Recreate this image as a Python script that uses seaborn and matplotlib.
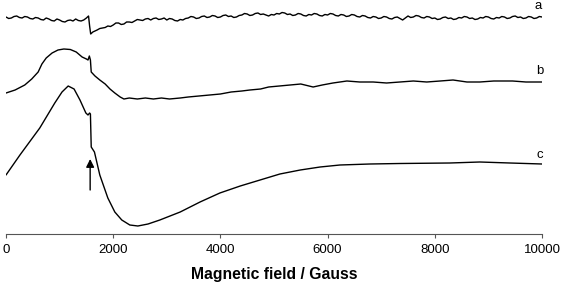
import pandas as pd
import matplotlib
matplotlib.use("Agg")
import matplotlib.pyplot as plt
import seaborn as sns

# STYLE SETTINGS
sns.set_theme(style="ticks")
plt.rcParams['font.family'] = ['Liberation Sans', 'DejaVu Sans']

# DATA (intensities in arbitrary units)
a_field = [0, 50, 100, 150, 200, 250, 300, 350, 400, 450, 500, 550, 600, 650, 700, 750,
           800, 850, 900, 950, 1000, 1050, 1100, 1150, 1200, 1250, 1300, 1350, 1400, 1450,
           1500, 1540, 1560, 1580, 1620, 1660, 1700, 1750, 1800, 1850, 1900, 1950, 2000,
           2050, 2100, 2150, 2200, 2250, 2300, 2350, 2400, 2450, 2500, 2550, 2600, 2650,
           2700, 2750, 2800, 2850, 2900, 2950, 3000, 3050, 3100, 3150, 3200, 3250, 3300,
           3350, 3400, 3450, 3500, 3550, 3600, 3650, 3700, 3750, 3800, 3850, 3900, 3950,
           4000, 4050, 4100, 4150, 4200, 4250, 4300, 4350, 4400, 4450, 4500, 4550, 4600,
           4650, 4700, 4750, 4800, 4850, 4900, 4950, 5000, 5050, 5100, 5150, 5200, 5250,
           5300, 5350, 5400, 5450, 5500, 5550, 5600, 5650, 5700, 5750, 5800, 5850, 5900,
           5950, 6000, 6050, 6100, 6150, 6200, 6250, 6300, 6350, 6400, 6450, 6500, 6550,
           6600, 6650, 6700, 6750, 6800, 6850, 6900, 6950, 7000, 7050, 7100, 7150, 7200,
           7250, 7300, 7350, 7400, 7450, 7500, 7550, 7600, 7650, 7700, 7750, 7800, 7850,
           7900, 7950, 8000, 8050, 8100, 8150, 8200, 8250, 8300, 8350, 8400, 8450, 8500,
           8550, 8600, 8650, 8700, 8750, 8800, 8850, 8900, 8950, 9000, 9050, 9100, 9150,
           9200, 9250, 9300, 9350, 9400, 9450, 9500, 9550, 9600, 9650, 9700, 9750, 9800,
           9850, 9900, 9950, 10000]
a_int = [1, -0.5, 0, 1.5, 2, 0.5, 0, 1.5, 1, -0.5, -1, 0.5, 0, -1.5, -2, 0,
         -1, -2.5, -3, -1, -2, -3.5, -4, -2.5, -2, -3, -1, -2.5, -3, -2,
         0, 2, -8, -16, -14, -13, -12, -10.5, -10, -9.5, -8, -8.5, -7,
         -5, -5, -6.5, -6, -4, -4, -4.5, -3, -1.5, -2, -2.5, -1, -0.5,
         -2, -0.5, 0, -1.5, -1, 0, -2, -0.5, -1, -2.5, -3, -1.5, -2,
         -0.5, 0, 1.5, 1, -0.5, 0, 1.5, 2, 0.5, 1, 2.5, 2, 0.5,
         1, 2.5, 3, 1.5, 2, 0.5, 1, 2.5, 3, 4.5, 4, 2.5, 3,
         4.5, 5, 3.5, 4, 3, 2, 3.5, 3, 4.5, 4, 5.5, 5, 3.5,
         4, 2.5, 3, 4.5, 4, 2.5, 2, 3.5, 3, 4.5, 4, 2.5, 2,
         3.5, 3, 4.5, 4, 2.5, 2, 3.5, 3, 1.5, 2, 3.5, 3, 1.5,
         1, 2.5, 2, 0.5, 0, 1.5, 1, -0.5, 0, 1.5, 1, -0.5, -1,
         0.5, 1, -0.5, -2, 0, 2, 0.5, 1, 2.5, 2, 0.5, 0, 1.5,
         1, -0.5, 0, -1.5, -1, 0.5, 1, -0.5, 0, -1.5, -1, 0.5, 0,
         1.5, 1, -0.5, 0, -1.5, -1, 0.5, 0, 1.5, 1, -0.5, -1, 0.5,
         0, 1.5, 1, -0.5, 0, 1.5, 2, 0.5, 1, -0.5, 0, 1.5, 1,
         -0.5, 0, 1.5, 1]

b_field = [0, 170, 350, 480, 600, 670, 750, 860, 970, 1080, 1200, 1310, 1420, 1500,
           1530, 1555, 1575, 1590, 1660, 1750, 1850, 1940, 2030, 2130, 2200, 2300, 2450,
           2600, 2750, 2900, 3050, 3250, 3400, 3600, 3800, 4000, 4200, 4400, 4550, 4750,
           4900, 5100, 5300, 5500, 5730, 5900, 6100, 6360, 6600, 6850, 7100, 7350, 7600,
           7850, 8100, 8340, 8600, 8840, 9100, 9450, 9700, 10000]
b_int = [-11, -8, -3, 3, 10, 18, 24, 29, 32, 33, 32.5, 30, 25, 23,
         22, 26, 22, 10, 6, 2, -2, -7, -11, -15, -17, -16, -17,
         -16, -17, -16, -17, -16, -15, -14, -13, -12, -10, -9, -8, -7,
         -5, -4, -3, -2, -5, -3, -1, 1, 0, 0, -1, 0, 1,
         0, 1, 2, 0, 0, 1, 1, 0, 0]

c_field = [0, 260, 630, 910, 1045, 1160, 1270, 1380, 1490, 1530, 1560, 1575, 1590,
           1650, 1750, 1900, 2030, 2160, 2310, 2460, 2650, 2870, 3250, 3620, 3990,
           4370, 4740, 5110, 5490, 5860, 6230, 6790, 7350, 8280, 8840, 9400, 10000]
c_int = [-11, 9, 36, 61, 72, 78, 75, 64, 51, 49, 51, 50, 17,
         12, -11, -34, -48, -56, -61, -62, -60, -56, -48, -38, -29,
         -22, -16, -10, -6, -3, -1, 0, 0.5, 1, 2, 1, 0]

labels = ['a', 'b', 'c']
offsets = [216, 152, 70]

df = pd.concat([
    pd.DataFrame({'field': f, 'signal': [v + off for v in s], 'trace': lab})
    for f, s, lab, off in zip([a_field, b_field, c_field], [a_int, b_int, c_int], labels, offsets)
])

fig = plt.figure(figsize=(5.67, 2.83), dpi=100)
ax = fig.add_axes([6 / 567, 49 / 283, 536 / 567, 234 / 283])

for lab in labels:
    sns.lineplot(data=df[df['trace'] == lab], x='field', y='signal', ax=ax,
                 color='black', linewidth=1.0, estimator=None, sort=False)

# trace labels
for lab, (x, y) in zip(labels, [(9925, 228), (9963, 163), (9963, 79)]):
    ax.text(x, y, lab, ha='center', va='center', fontsize=9.5, color='black')

# arrow marking the narrow signal
ax.annotate('', xy=(1570, 75), xytext=(1570, 44),
            arrowprops=dict(arrowstyle='-|>', color='black', lw=1.0,
                            mutation_scale=12, shrinkA=0, shrinkB=0))

ax.set_xlim(0, 10000)
ax.set_ylim(0, 234)
ax.set_xticks([0, 2000, 4000, 6000, 8000, 10000])
ax.set_yticks([])
ax.set_ylabel('')
ax.set_xlabel('Magnetic field / Gauss', fontsize=11.3, fontweight='bold', color='black')
ax.xaxis.set_label_coords(0.5, -41 / 234)
ax.xaxis.label.set_va('center')
ax.tick_params(axis='x', direction='out', length=3, width=0.8, color='#555555',
               labelsize=9.5, labelcolor='black', pad=4)
for side in ['left', 'top', 'right']:
    ax.spines[side].set_visible(False)
ax.spines['bottom'].set_color('#555555')
ax.spines['bottom'].set_linewidth(0.8)

fig.savefig('out.png', dpi=100)
